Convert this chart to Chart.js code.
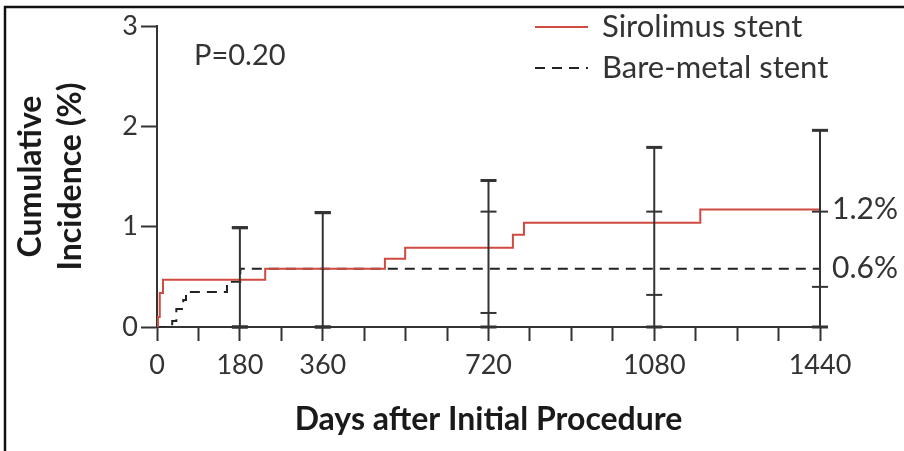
<html>
    <head>
        <meta charset="utf-8">
        <title>Cumulative Incidence - Sirolimus vs Bare-metal</title>
        <script src="https://cdn.jsdelivr.net/npm/chart.js@4.4.1/dist/chart.umd.min.js"></script>
        <style type="text/css">
            html, body {
                margin: 0;
                padding: 0;
                background: #fff;
            }
            #chart {
                display: block;
            }
        </style>
    </head>
    <body>
        <canvas id="chart" width="904" height="451"></canvas>
        <script>
            // Kaplan-Meier style steps (days, %)
            var sesDays   = [0, 2, 6, 13, 235, 495, 539, 773, 797, 1180, 1440];
            var sesValues = [0, 0.10, 0.34, 0.47, 0.58, 0.68, 0.79, 0.92, 1.04, 1.17, 1.17];
            var bmsDays   = [0, 33, 42, 57, 63, 152, 181, 1440];
            var bmsValues = [0, 0.06, 0.18, 0.27, 0.35, 0.45, 0.58, 0.58];

            // confidence bars at the follow-up times
            var ciDays     = [180, 360, 720, 1080, 1440];
            var sesCiLow   = [0, 0, 0.14, 0.32, 0.40];
            var sesCiHigh  = [0.99, 1.14, 1.46, 1.79, 1.96];
            var bmsCiLow   = [0, 0, 0, 0, 0];
            var bmsCiHigh  = [0.99, 1.14, 1.15, 1.15, 1.15];

            var xTickLabels = [0, 180, 360, 720, 1080, 1440];
            var endLabels   = ['1.2%', '0.6%'];
            var seriesNames = ['Sirolimus stent', 'Bare-metal stent'];
            var pValueText  = 'P=0.20';

            var FONT = 'Lato';
            var AXIS = '#333';

            function toPoints(days, vals) {
                return days.map(function(d, i) { return {x: d, y: vals[i]}; });
            }

            var extras = {
                id: 'extras',
                beforeDraw: function(chart) {
                    var ctx = chart.ctx;
                    ctx.save();
                    ctx.fillStyle = '#fff';
                    ctx.fillRect(0, 0, chart.width, chart.height);
                    // picture frame (top + left)
                    ctx.strokeStyle = '#111';
                    ctx.lineWidth = 2.5;
                    ctx.beginPath();
                    ctx.moveTo(5, chart.height);
                    ctx.lineTo(5, 7);
                    ctx.lineTo(chart.width, 7);
                    ctx.stroke();
                    ctx.restore();
                },
                afterDatasetsDraw: function(chart) {
                    var ctx = chart.ctx;
                    var xs = chart.scales.x, ys = chart.scales.y;
                    ctx.save();
                    ctx.strokeStyle = AXIS;
                    ctx.lineCap = 'butt';
                    // error bars
                    ciDays.forEach(function(d, i) {
                        var px = xs.getPixelForValue(d);
                        var top = Math.max(sesCiHigh[i], bmsCiHigh[i]);
                        var bot = Math.min(sesCiLow[i], bmsCiLow[i]);
                        ctx.lineWidth = 2;
                        ctx.beginPath();
                        ctx.moveTo(px, ys.getPixelForValue(bot));
                        ctx.lineTo(px, ys.getPixelForValue(top));
                        ctx.stroke();
                        [sesCiLow[i], sesCiHigh[i], bmsCiLow[i], bmsCiHigh[i]].forEach(function(v) {
                            var py = ys.getPixelForValue(v);
                            ctx.lineWidth = (v === top || v === 0) ? 3 : 2;
                            ctx.beginPath();
                            ctx.moveTo(px - 8, py);
                            ctx.lineTo(px + 8, py);
                            ctx.stroke();
                        });
                    });

                    // end-of-curve labels
                    ctx.fillStyle = AXIS;
                    ctx.font = '30px ' + FONT;
                    ctx.textAlign = 'left';
                    ctx.textBaseline = 'middle';
                    chart.data.datasets.forEach(function(ds, i) {
                        var last = ds.data[ds.data.length - 1];
                        ctx.fillText(endLabels[i], chart.chartArea.right + 12, ys.getPixelForValue(last.y));
                    });

                    // p value
                    ctx.font = '29px ' + FONT;
                    ctx.fillText(pValueText, 194, 56);

                    // legend
                    ctx.font = '31px ' + FONT;
                    chart.data.datasets.forEach(function(ds, i) {
                        var ly = 27 + i * 41;
                        ctx.strokeStyle = ds.borderColor;
                        ctx.lineWidth = 2;
                        ctx.setLineDash(ds.borderDash || []);
                        ctx.beginPath();
                        ctx.moveTo(535, ly);
                        ctx.lineTo(588, ly);
                        ctx.stroke();
                        ctx.setLineDash([]);
                        ctx.fillStyle = AXIS;
                        ctx.fillText(ds.label, 602, ly);
                    });
                    ctx.restore();
                }
            };

            var chart = new Chart(document.getElementById('chart').getContext('2d'), {
                type: 'line',
                data: {
                    datasets: [
                        {
                            label: seriesNames[0],
                            data: toPoints(sesDays, sesValues),
                            borderColor: '#cf4a3f',
                            borderWidth: 2,
                            stepped: true,
                            pointRadius: 0,
                            fill: false
                        },
                        {
                            label: seriesNames[1],
                            data: toPoints(bmsDays, bmsValues),
                            borderColor: '#222',
                            borderWidth: 2,
                            borderDash: [10, 7],
                            stepped: true,
                            pointRadius: 0,
                            fill: false
                        }
                    ]
                },
                options: {
                    responsive: false,
                    animation: false,
                    layout: {
                        padding: {top: 26, right: 84, left: 0, bottom: 0}
                    },
                    plugins: {
                        legend: {display: false},
                        tooltip: {enabled: false}
                    },
                    scales: {
                        x: {
                            type: 'linear',
                            min: 0,
                            max: 1440,
                            border: {display: true, color: AXIS, width: 2},
                            grid: {drawOnChartArea: false, drawTicks: true, tickLength: 14, tickWidth: 2, tickColor: AXIS},
                            ticks: {
                                stepSize: 90,
                                autoSkip: false,
                                maxRotation: 0,
                                padding: 8,
                                color: AXIS,
                                font: {family: FONT, size: 27},
                                callback: function(v) { return xTickLabels.indexOf(v) >= 0 ? String(v) : ''; }
                            },
                            title: {
                                display: true,
                                text: 'Days after Initial Procedure',
                                color: '#1a1a1a',
                                font: {family: FONT, size: 32, weight: 'bold'},
                                padding: {top: 0, bottom: 12}
                            },
                            afterFit: function(s) { s.height = 124; }
                        },
                        y: {
                            min: 0,
                            max: 3,
                            border: {display: true, color: AXIS, width: 2},
                            grid: {drawOnChartArea: false, drawTicks: true, tickLength: 16, tickWidth: 2, tickColor: AXIS},
                            ticks: {
                                stepSize: 1,
                                padding: 3,
                                color: AXIS,
                                font: {family: FONT, size: 27}
                            },
                            title: {
                                display: true,
                                text: ['Cumulative', 'Incidence (%)'],
                                color: '#1a1a1a',
                                font: {family: FONT, size: 32, weight: 'bold', lineHeight: 1.25},
                                padding: {top: 11, bottom: 0}
                            },
                            afterFit: function(s) { s.width = 157; }
                        }
                    }
                },
                plugins: [extras]
            });
        </script>
    </body>
</html>
